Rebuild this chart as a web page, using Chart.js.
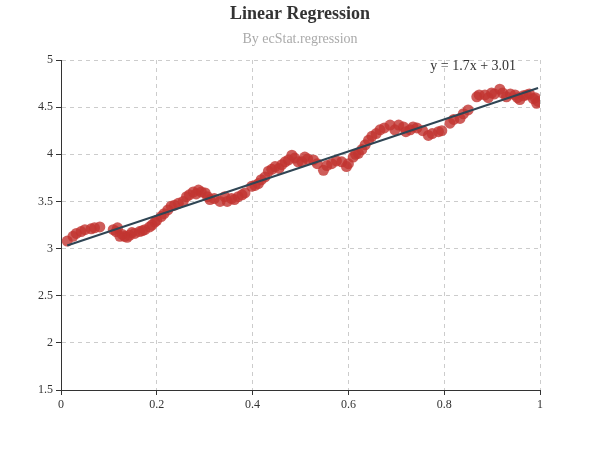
<!DOCTYPE html>
<html>
<head>
<meta charset="utf-8">
<script src="https://cdn.jsdelivr.net/npm/chart.js@4/dist/chart.umd.min.js"></script>
<style>
  html, body { margin: 0; padding: 0; background: #fff; }
  #wrap { width: 600px; height: 450px; position: relative; }
</style>
</head>
<body>
<div id="wrap"><canvas id="canvas"></canvas></div>
<script>
// scatter data
var xs = [0.013, 0.025, 0.032, 0.042, 0.05, 0.063, 0.07, 0.081, 0.109, 0.115,
  0.118, 0.123, 0.128, 0.133, 0.138, 0.143, 0.148, 0.154, 0.164, 0.17,
  0.175, 0.185, 0.19, 0.196, 0.2, 0.209, 0.215, 0.223, 0.23, 0.237,
  0.245, 0.255, 0.262, 0.268, 0.276, 0.282, 0.287, 0.293, 0.301, 0.306,
  0.311, 0.32, 0.332, 0.342, 0.347, 0.356, 0.362, 0.37, 0.378, 0.384,
  0.398, 0.405, 0.412, 0.418, 0.426, 0.433, 0.44, 0.447, 0.455, 0.461,
  0.468, 0.475, 0.482, 0.488, 0.495, 0.503, 0.509, 0.515, 0.527, 0.535,
  0.548, 0.555, 0.565, 0.575, 0.586, 0.596, 0.6, 0.61, 0.615, 0.621,
  0.628, 0.635, 0.642, 0.649, 0.658, 0.666, 0.675, 0.687, 0.697, 0.705,
  0.715, 0.72, 0.729, 0.735, 0.743, 0.755, 0.767, 0.775, 0.788, 0.795,
  0.812, 0.82, 0.833, 0.84, 0.85, 0.868, 0.873, 0.885, 0.892, 0.899,
  0.905, 0.916, 0.922, 0.93, 0.938, 0.948, 0.953, 0.958, 0.965, 0.972,
  0.978, 0.986, 0.99, 0.993, 0.996];
var ys = [3.08, 3.13, 3.16, 3.18, 3.20, 3.21, 3.22, 3.23, 3.20, 3.18,
  3.22, 3.13, 3.15, 3.13, 3.12, 3.14, 3.17, 3.16, 3.18, 3.19,
  3.20, 3.23, 3.25, 3.28, 3.30, 3.34, 3.37, 3.41, 3.45, 3.46,
  3.48, 3.50, 3.55, 3.57, 3.60, 3.58, 3.62, 3.60, 3.59, 3.55,
  3.52, 3.53, 3.50, 3.55, 3.50, 3.53, 3.52, 3.55, 3.57, 3.59,
  3.66, 3.67, 3.69, 3.73, 3.76, 3.82, 3.84, 3.87, 3.85, 3.89,
  3.92, 3.94, 3.99, 3.96, 3.92, 3.92, 3.97, 3.95, 3.94, 3.90,
  3.83, 3.88, 3.90, 3.93, 3.92, 3.87, 3.90, 3.97, 4.00, 4.01,
  4.05, 4.10, 4.15, 4.19, 4.22, 4.26, 4.28, 4.31, 4.26, 4.31,
  4.29, 4.24, 4.26, 4.29, 4.28, 4.25, 4.20, 4.22, 4.24, 4.25,
  4.33, 4.37, 4.38, 4.43, 4.47, 4.61, 4.63, 4.63, 4.60, 4.65,
  4.64, 4.69, 4.65, 4.61, 4.64, 4.63, 4.60, 4.58, 4.62, 4.63,
  4.64, 4.59, 4.60, 4.54, 4.56];

// regression shown on the chart
var slope = 1.7;
var intercept = 3.01;
var formula = 'y = 1.7x + 3.01';

var xTicks = [0, 0.2, 0.4, 0.6, 0.8, 1];
var yTicks = [1.5, 2, 2.5, 3, 3.5, 4, 4.5, 5];

var points = xs.map(function (x, i) { return { x: x, y: ys[i] }; });
var x0 = Math.min.apply(null, xs), x1 = Math.max.apply(null, xs);
var linePts = [{ x: x0, y: slope * x0 + intercept }, { x: x1, y: slope * x1 + intercept }];

var serif = "'Liberation Serif', 'DejaVu Serif', serif";

var textPlugin = {
  id: 'texts',
  afterDraw: function (chart) {
    var c = chart.ctx;
    c.save();
    c.textAlign = 'center';
    c.textBaseline = 'middle';
    c.fillStyle = '#333';
    c.font = 'bold 18px ' + serif;
    c.fillText('Linear Regression', 300, 14);
    c.fillStyle = '#aaa';
    c.font = '14px ' + serif;
    c.fillText('By ecStat.regression', 300, 39);
    // formula near the end of the line
    var sx = chart.scales.x, sy = chart.scales.y;
    var last = linePts[1];
    c.fillStyle = '#333';
    c.font = '14px ' + serif;
    c.textAlign = 'right';
    c.textBaseline = 'alphabetic';
    c.fillText(formula, sx.getPixelForValue(last.x) - 22, sy.getPixelForValue(last.y) - 18);
    c.restore();
  }
};

function plain(v) { return String(+v.toFixed(2)); }

var axisCommon = {
  type: 'linear',
  grid: { color: '#ccc', tickColor: '#333', tickLength: 5, tickBorderDash: [] },
  border: { color: '#333', width: 1, dash: [4, 4] },
  ticks: { color: '#333', font: { family: serif, size: 12 }, padding: 3, callback: plain }
};

var ctx = document.getElementById('canvas').getContext('2d');
var chart = new Chart(ctx, {
  type: 'scatter',
  data: {
    datasets: [{
      type: 'line',
      data: linePts,
      borderColor: '#2f4554',
      borderWidth: 2,
      pointRadius: 0,
      fill: false,
      order: 0
    }, {
      data: points,
      backgroundColor: 'rgba(194, 53, 49, 0.8)',
      borderWidth: 0,
      pointRadius: 5.5,
      order: 1
    }]
  },
  options: {
    responsive: true,
    maintainAspectRatio: false,
    animation: false,
    layout: { padding: { top: 60, left: 0, right: 60, bottom: 35 } },
    plugins: { legend: { display: false }, tooltip: { enabled: false } },
    scales: {
      x: Object.assign({}, axisCommon, {
        min: 0, max: 1,
        afterBuildTicks: function (s) { s.ticks = xTicks.map(function (v) { return { value: v }; }); },
        afterFit: function (s) { s.height = 25; }
      }),
      y: Object.assign({}, axisCommon, {
        min: 1.5, max: 5,
        afterBuildTicks: function (s) { s.ticks = yTicks.map(function (v) { return { value: v }; }); },
        afterFit: function (s) { s.width = 61; }
      })
    }
  },
  plugins: [textPlugin]
});
</script>
</body>
</html>
